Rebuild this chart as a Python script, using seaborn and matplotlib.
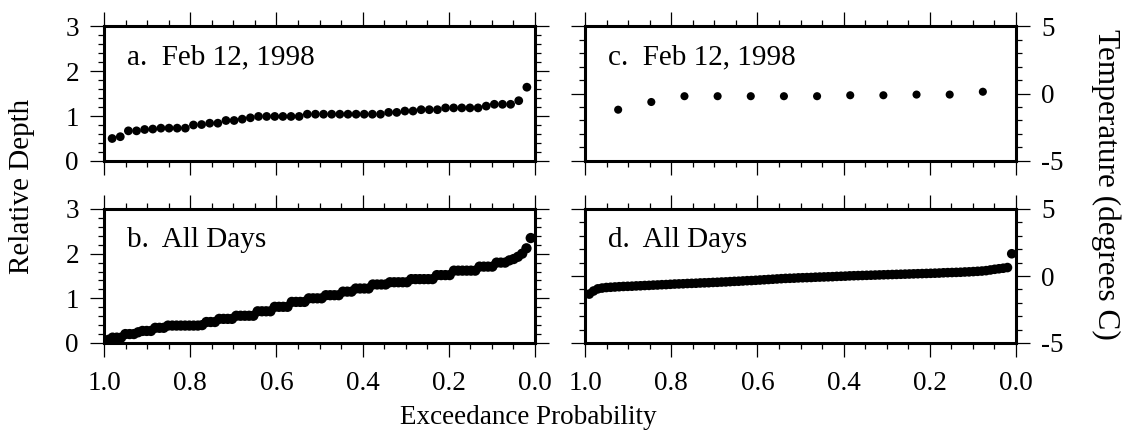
import numpy as np
import pandas as pd
import matplotlib
matplotlib.use("Agg")
import matplotlib.pyplot as plt
from matplotlib.ticker import MultipleLocator, FormatStrFormatter
import seaborn as sns

# ---------------- data (sorted ascending; plotted at exceedance probability) ----
depth_feb12 = [0.50, 0.54, 0.67, 0.67, 0.70, 0.71, 0.73, 0.73, 0.73, 0.73,
               0.80, 0.81, 0.84, 0.84, 0.90, 0.90, 0.93, 0.96, 0.99, 0.99,
               0.99, 0.99, 0.99, 0.99, 1.04, 1.04, 1.04, 1.04, 1.04, 1.04,
               1.04, 1.04, 1.04, 1.04, 1.08, 1.08, 1.11, 1.11, 1.14, 1.14,
               1.14, 1.18, 1.18, 1.18, 1.18, 1.18, 1.22, 1.26, 1.26, 1.26,
               1.34, 1.64]

depth_all = [0.07, 0.12, 0.12, 0.12, 0.20, 0.20, 0.20, 0.24, 0.27, 0.27,
             0.27, 0.34, 0.34, 0.34, 0.39, 0.39, 0.39, 0.39, 0.39, 0.39,
             0.39, 0.39, 0.40, 0.47, 0.47, 0.47, 0.54, 0.54, 0.54, 0.54,
             0.61, 0.61, 0.61, 0.61, 0.61, 0.71, 0.71, 0.71, 0.71, 0.81,
             0.81, 0.81, 0.81, 0.92, 0.92, 0.92, 0.92, 1.00, 1.00, 1.00,
             1.00, 1.07, 1.07, 1.07, 1.07, 1.15, 1.15, 1.15, 1.22, 1.22,
             1.22, 1.22, 1.31, 1.31, 1.31, 1.31, 1.36, 1.36, 1.36, 1.36,
             1.36, 1.43, 1.43, 1.43, 1.43, 1.43, 1.43, 1.52, 1.52, 1.52,
             1.52, 1.62, 1.62, 1.62, 1.62, 1.62, 1.62, 1.71, 1.71, 1.71,
             1.71, 1.80, 1.80, 1.80, 1.85, 1.88, 1.93, 2.00, 2.12, 2.35]

temp_feb12 = [-1.2, -0.63, -0.2, -0.2, -0.2, -0.2, -0.2, -0.13, -0.13, -0.08,
              -0.08, 0.13]

temp_all = [-1.35, -1.12, -0.96, -0.90, -0.86, -0.84, -0.82, -0.80, -0.78, -0.77,
            -0.76, -0.74, -0.73, -0.71, -0.70, -0.68, -0.67, -0.65, -0.64, -0.62,
            -0.60, -0.59, -0.58, -0.56, -0.55, -0.54, -0.52, -0.51, -0.50, -0.48,
            -0.47, -0.45, -0.44, -0.42, -0.40, -0.39, -0.37, -0.35, -0.34, -0.32,
            -0.30, -0.28, -0.26, -0.24, -0.22, -0.20, -0.18, -0.17, -0.16, -0.14,
            -0.13, -0.12, -0.11, -0.09, -0.08, -0.07, -0.06, -0.05, -0.03, -0.02,
            -0.01, 0.01, 0.02, 0.03, 0.04, 0.05, 0.06, 0.07, 0.08, 0.09,
            0.10, 0.11, 0.12, 0.13, 0.14, 0.15, 0.16, 0.17, 0.18, 0.19,
            0.20, 0.21, 0.22, 0.24, 0.25, 0.26, 0.27, 0.28, 0.30, 0.31,
            0.33, 0.35, 0.37, 0.40, 0.45, 0.50, 0.54, 0.58, 0.63, 1.66]

panel_labels = ["a.  Feb 12, 1998", "b.  All Days", "c.  Feb 12, 1998", "d.  All Days"]
x_ticks = [1.0, 0.8, 0.6, 0.4, 0.2, 0.0]
depth_ticks = [0, 1, 2, 3]
temp_ticks = [-5, 0, 5]


def exceedance_frame(values):
    v = np.sort(np.asarray(values, dtype=float))
    n = len(v)
    rank = np.arange(1, n + 1)
    return pd.DataFrame({"p": 1.0 - rank / (n + 1.0), "v": v})


# ---------------- style ----------------
sns.set_style("ticks")
plt.rcParams["font.family"] = ["Liberation Serif", "DejaVu Serif"]
plt.rcParams["axes.unicode_minus"] = False

W, H = 1124, 434
fig = plt.figure(figsize=(W / 100, H / 100), dpi=100)


def ax_at(left, top, right, bottom):
    return fig.add_axes([left / W, 1 - bottom / H, (right - left) / W, (bottom - top) / H])


ax_a = ax_at(104, 26, 535, 161)
ax_b = ax_at(104, 209, 535, 343)
ax_c = ax_at(585, 26, 1016, 161)
ax_d = ax_at(585, 209, 1016, 343)

specs = [
    (ax_a, depth_feb12, panel_labels[0], "depth", False, 40),
    (ax_b, depth_all, panel_labels[1], "depth", True, 55),
    (ax_c, temp_feb12, panel_labels[2], "temp", False, 34),
    (ax_d, temp_all, panel_labels[3], "temp", True, 48),
]

for ax, vals, lab, kind, bottom, msize in specs:
    df = exceedance_frame(vals)
    sns.scatterplot(data=df, x="p", y="v", ax=ax, color="black", s=msize,
                    edgecolor="none", linewidth=0, legend=False, zorder=3, clip_on=False)
    ax.set_xlim(1.0, 0.0)
    ax.set_xlabel("")
    ax.set_ylabel("")
    for sp in ax.spines.values():
        sp.set_visible(True)
        sp.set_linewidth(2.2)
        sp.set_color("black")
    ax.set_xticks(x_ticks)
    ax.xaxis.set_minor_locator(MultipleLocator(0.05))
    ax.xaxis.set_major_formatter(FormatStrFormatter("%.1f"))
    if kind == "depth":
        ax.set_ylim(0, 3)
        ax.set_yticks(depth_ticks)
        ax.yaxis.set_minor_locator(MultipleLocator(0.2))
    else:
        ax.set_ylim(-5, 5)
        ax.set_yticks(temp_ticks)
        ax.yaxis.set_minor_locator(MultipleLocator(1))
    ax.tick_params(which="both", direction="out", top=True, bottom=True, left=True, right=True,
                   width=0.9, color="black", labelsize=19.5, labelcolor="black")
    ax.tick_params(which="major", length=10)
    ax.tick_params(which="minor", length=4.5)
    ax.tick_params(axis="x", which="major", pad=10)
    ax.tick_params(axis="y", which="major", pad=8)
    ax.tick_params(axis="x", labelbottom=bottom, labeltop=False)
    if kind == "depth":
        ax.tick_params(axis="y", labelleft=True, labelright=False)
    else:
        ax.tick_params(axis="y", labelleft=False, labelright=True)
    ax.text(0.053, 0.715, lab, transform=ax.transAxes, fontsize=21, ha="left",
            va="baseline", color="black")
    ax.set_facecolor("white")

fig.text(22 / W, 1 - 186 / H, "Relative Depth", rotation=90, ha="center", va="center",
         fontsize=21, color="black")
fig.text(1106 / W, 1 - 184 / H, "Temperature (degrees C)", rotation=-90, ha="center",
         va="center", fontsize=22.5, color="black")
fig.text(528 / W, 1 - 417 / H, "Exceedance Probability", ha="center", va="center",
         fontsize=19.5, color="black")

fig.savefig("out.png", dpi=100, facecolor="white")
